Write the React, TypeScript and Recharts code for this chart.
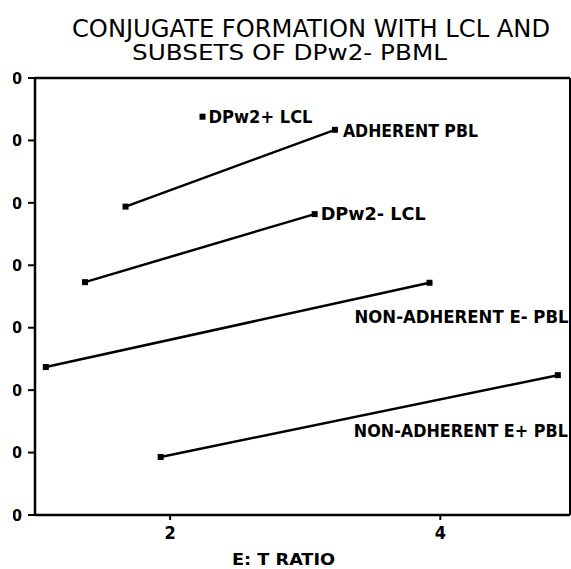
import { LineChart, Line, XAxis, YAxis, ReferenceLine } from 'recharts';

// values (x = E:T ratio, y = conjugates)
const dpw2PlusX = [2.24];
const dpw2PlusY = [63.8];
const adherentX = [1.67, 3.22];
const adherentY = [49.4, 61.7];
const dpw2MinusX = [1.37, 3.07];
const dpw2MinusY = [37.3, 48.2];
const nonAdhEMinusX = [1.08, 3.92];
const nonAdhEMinusY = [23.7, 37.2];
const nonAdhEPlusX = [1.93, 4.87];
const nonAdhEPlusY = [9.3, 22.4];

const xTicks = [2, 4];
const yTicks = [0, 10, 20, 30, 40, 50, 60, 70];
const xMax = 4.96;

const titleLines = ['CONJUGATE FORMATION WITH LCL AND', 'SUBSETS OF DPw2- PBML'];
const xTitle = 'E: T RATIO';

const toPoints = (xs: number[], ys: number[]) => xs.map((x, i) => ({ x, y: ys[i] }));

const FONT = '"DejaVu Sans Condensed", "DejaVu Sans", sans-serif';

const series = [
  { key: 'dpw2plus', name: 'DPw2+ LCL', data: toPoints(dpw2PlusX, dpw2PlusY), at: 0, dx: 6, dy: 6, len: 104 },
  { key: 'adherent', name: 'ADHERENT PBL', data: toPoints(adherentX, adherentY), at: 1, dx: 8, dy: 7, len: 135 },
  { key: 'dpw2minus', name: 'DPw2- LCL', data: toPoints(dpw2MinusX, dpw2MinusY), at: 1, dx: 6, dy: 6, len: 105 },
  { key: 'eminus', name: 'NON-ADHERENT E- PBL', data: toPoints(nonAdhEMinusX, nonAdhEMinusY), at: 1, dx: -75, dy: 40, len: 214 },
  { key: 'eplus', name: 'NON-ADHERENT E+ PBL', data: toPoints(nonAdhEPlusX, nonAdhEPlusY), at: 1, dx: -204, dy: 62, len: 214 },
];

const SquareDot = (props: any) => {
  const { cx, cy } = props;
  if (cx == null || cy == null) return null;
  return <rect x={cx - 3} y={cy - 3} width={6} height={6} fill="#000" />;
};

const makeLabel = (s: (typeof series)[number]) => (props: any) => {
  const { x, y, index } = props;
  if (index !== s.at) return null;
  return (
    <text
      x={x + s.dx}
      y={y + s.dy}
      fontFamily={FONT}
      fontWeight="bold"
      fontSize={17}
      fill="#000"
      textLength={s.len}
      lengthAdjust="spacingAndGlyphs"
    >
      {s.name}
    </text>
  );
};

const XTitle = () => (
  <text
    x={232}
    y={565}
    fontFamily={FONT}
    fontWeight="bold"
    fontSize={16}
    fill="#000"
    textLength={103}
    lengthAdjust="spacingAndGlyphs"
  >
    {xTitle}
  </text>
);

export default function App() {
  return (
    <div style={{ position: 'fixed', left: 0, top: 0, width: 571, height: 569, overflow: 'hidden', background: '#fff' }}>
      <svg width={571} height={70} style={{ position: 'absolute', left: 0, top: 0 }}>
        <text x={72} y={37} fontFamily='"DejaVu Sans", sans-serif' fontSize={24} fill="#000" textLength={478} lengthAdjust="spacingAndGlyphs">
          {titleLines[0]}
        </text>
        <text x={132} y={60} fontFamily='"DejaVu Sans", sans-serif' fontSize={22} fill="#000" textLength={315} lengthAdjust="spacingAndGlyphs">
          {titleLines[1]}
        </text>
      </svg>
      <div style={{ position: 'absolute', left: 13, top: 0, width: 558, height: 569, overflow: 'hidden' }}>
        <div style={{ position: 'absolute', left: -13, top: 0 }}>
          <LineChart width={571} height={569} margin={{ top: 78, right: 1, bottom: 0, left: 0 }}>
            <XAxis
              type="number"
              dataKey="x"
              domain={[1, xMax]}
              ticks={xTicks}
              allowDuplicatedCategory={false}
              axisLine={{ stroke: '#000', strokeWidth: 2.5 }}
              tickLine={{ stroke: '#000', strokeWidth: 2 }}
              tickSize={5}
              tickMargin={6}
              tick={{ fill: '#000', fontSize: 18, fontWeight: 'bold', fontFamily: FONT }}
              height={54}
              label={<XTitle />}
            />
            <YAxis
              type="number"
              domain={[0, 70]}
              ticks={yTicks}
              axisLine={{ stroke: '#000', strokeWidth: 2.5 }}
              tickLine={{ stroke: '#000', strokeWidth: 2 }}
              tickSize={7}
              tickMargin={6}
              tick={{ fill: '#000', fontSize: 16, fontWeight: 'bold', fontFamily: FONT }}
              width={35}
            />
            <ReferenceLine y={70} stroke="#000" strokeWidth={2.5} />
            <ReferenceLine x={xMax} stroke="#000" strokeWidth={2} />
            {series.map((s) => (
              <Line
                key={s.key}
                data={s.data}
                dataKey="y"
                name={s.name}
                stroke="#000"
                strokeWidth={2.5}
                dot={<SquareDot />}
                activeDot={false}
                label={makeLabel(s)}
                isAnimationActive={false}
              />
            ))}
          </LineChart>
        </div>
      </div>
    </div>
  );
}
